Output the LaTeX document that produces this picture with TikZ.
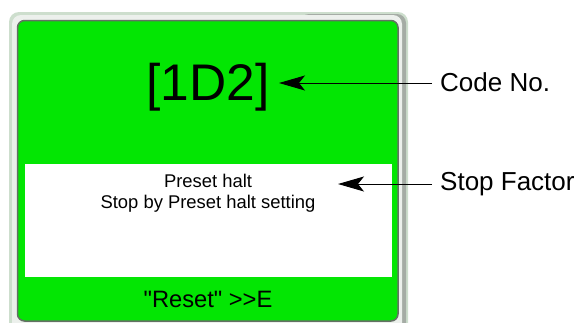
\documentclass[tikz,border=0pt]{standalone}
\usepackage{fontspec}
\setmainfont{Liberation Sans}[Ligatures=TeXOff]
\usetikzlibrary{arrows.meta}
\definecolor{scrgreen}{RGB}{3,230,3}
\definecolor{bezelout}{RGB}{205,222,205}
\definecolor{bezelin}{RGB}{236,240,236}
\definecolor{bezeldark}{RGB}{100,112,100}
\definecolor{bezelright}{RGB}{165,172,165}
\tikzset{
  txt/.style={inner sep=0pt, text=black},
  pointer/.style={draw=black, line width=1pt, -{Stealth[length=26pt,width=15pt,inset=6pt]}},
}
\begin{document}
\begin{tikzpicture}[x=1pt,y=-1pt]
\useasboundingbox (0,0) rectangle (579,322);
\clip (0,0) rectangle (579,322);
% bezel
\fill[bezelout, rounded corners=10pt] (9,12) rectangle (408,345);
\fill[bezelright, rounded corners=9pt] (300,14) rectangle (406,343);
\fill[bezelin, rounded corners=9pt] (12,15) rectangle (402,341);
% screen
\fill[scrgreen, draw=bezeldark, line width=1.5pt, rounded corners=7pt] (17.5,20.5) rectangle (398,321);
\fill[white] (25,164) rectangle (392,277);
% texts
\node[txt, anchor=base, font=\fontsize{51.5}{60}\selectfont] (code) at (208,100) {[1D2]};
\node[txt, anchor=base, font=\fontsize{18.4}{21}\selectfont] (preset1) at (208,187) {Preset halt};
\node[txt, anchor=base, font=\fontsize{18.4}{21}\selectfont] (preset2) at (208,208) {Stop by Preset halt setting};
\node[txt, anchor=base, font=\fontsize{23.7}{28}\selectfont] (reset) at (208,307) {\symbol{34}Reset\symbol{34} >{}>E};
\node[txt, anchor=base west, inner xsep=8pt, font=\fontsize{26}{30}\selectfont] (codelbl) at (432,91.3) {Code No.};
\node[txt, anchor=base west, inner xsep=8pt, font=\fontsize{26}{30}\selectfont] (stoplbl) at (432,190.7) {Stop Factor};
% arrows
\coordinate (codetip) at (279,83);
\coordinate (stoptip) at (338,184);
\draw[pointer] (codelbl.west |- codetip) -- (codetip);
\draw[pointer] (stoplbl.west |- stoptip) -- (stoptip);
\end{tikzpicture}
\end{document}
